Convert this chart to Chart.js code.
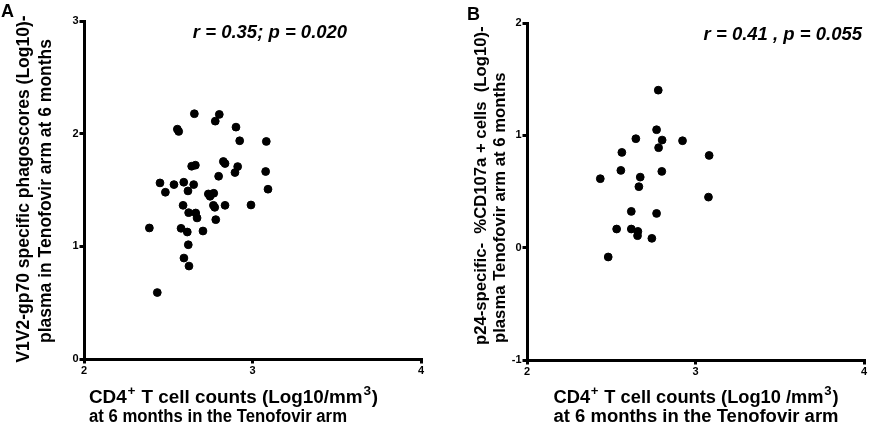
<!DOCTYPE html>
<html>
<head>
<meta charset="utf-8">
<script src="https://cdn.jsdelivr.net/npm/chart.js@4"></script>
<style>
  body { margin: 0; background: #fff; }
  #wrap { position: relative; width: 870px; height: 428px; }
  .panel { position: absolute; top: 0; width: 435px; height: 428px; }
</style>
</head>
<body>
<div id="wrap">
  <div class="panel" style="left:0"><canvas id="chartA" width="435" height="428"></canvas></div>
  <div class="panel" style="left:435px"><canvas id="chartB" width="435" height="428"></canvas></div>
</div>
<script>
// Panel A: CD4 counts vs V1V2-gp70 phagoscores
const cd4A = [2.655, 2.803, 2.779, 2.902, 2.554, 2.562, 2.924, 3.082, 2.639, 2.661,
              2.827, 2.837, 2.912, 2.896, 3.078, 2.799, 2.451, 2.534, 2.592, 2.651,
              2.483, 2.617, 3.092, 2.738, 2.748, 2.770, 2.588, 2.768, 2.776, 2.837,
              2.991, 2.621, 2.663, 2.671, 2.782, 2.388, 2.576, 2.613, 2.706, 2.619,
              2.593, 2.623, 2.435];
const phagoA = [2.177, 2.171, 2.111, 2.058, 2.040, 2.020, 1.937, 1.931, 1.711, 1.720,
                1.753, 1.735, 1.708, 1.655, 1.664, 1.622, 1.563, 1.548, 1.569, 1.548,
                1.480, 1.492, 1.507, 1.465, 1.444, 1.471, 1.364, 1.364, 1.346, 1.364,
                1.367, 1.299, 1.296, 1.252, 1.237, 1.163, 1.160, 1.127, 1.136, 1.014,
                0.896, 0.825, 0.590];

// Panel B: CD4 counts vs p24-specific %CD107a+ cells
const cd4B = [2.779, 2.769, 2.646, 2.802, 2.923, 2.781, 2.563, 3.081, 2.557, 2.800,
              2.435, 2.672, 2.664, 3.077, 2.619, 2.769, 2.532, 2.619, 2.658, 2.656,
              2.741, 2.482];
const cd107B = [1.402, 1.050, 0.970, 0.958, 0.952, 0.890, 0.848, 0.821, 0.688, 0.679,
                0.614, 0.628, 0.543, 0.450, 0.323, 0.305, 0.166, 0.166, 0.145, 0.107,
                0.083, -0.083];

const xTicks = [2, 3, 4];
const yTicksA = [0, 1, 2, 3];
const yTicksB = [-1, 0, 1, 2];

const FONT = '"Liberation Sans", Arial, sans-serif';

// draw text pieces (some superscript), squeezed to a given width
function drawRich(ctx, parts, x, y, align, size, width) {
    const supSize = Math.round(size * 0.72);
    let total = 0;
    parts.forEach(p => {
        ctx.font = 'bold ' + (p.sup ? supSize : size) + 'px ' + FONT;
        p.w = ctx.measureText(p.t).width + (p.sup ? 1.5 : 0);
        total += p.w;
    });
    const k = width ? width / total : 1;
    const left = align === 'center' ? x - total * k / 2 : x;
    ctx.save();
    ctx.translate(left, y);
    ctx.scale(k, 1);
    ctx.textAlign = 'left';
    ctx.textBaseline = 'alphabetic';
    let cx = 0;
    parts.forEach(p => {
        ctx.font = 'bold ' + (p.sup ? supSize : size) + 'px ' + FONT;
        ctx.fillText(p.t, cx + (p.sup ? 0.8 : 0), p.sup ? -size * 0.42 : 0);
        cx += p.w;
    });
    ctx.restore();
}

const labelsPlugin = {
    id: 'panelLabels',
    afterDraw(chart, args, opts) {
        const ctx = chart.ctx;
        ctx.save();
        ctx.fillStyle = '#000';

        // panel letter
        ctx.font = 'bold 18px ' + FONT;
        ctx.textAlign = 'left';
        ctx.textBaseline = 'top';
        ctx.fillText(opts.letter, opts.letterX, opts.letterY);

        // correlation stats
        ctx.font = 'italic bold 18.5px ' + FONT;
        ctx.textAlign = opts.statAlign;
        ctx.textBaseline = 'middle';
        ctx.fillText(opts.stat, opts.statX, opts.statY);

        // y axis title (two rotated lines)
        ctx.font = 'bold ' + opts.yTitleSize + 'px ' + FONT;
        ctx.textBaseline = 'middle';
        opts.yTitle.forEach((line, i) => {
            ctx.save();
            ctx.translate(opts.yTitleX[i], opts.yTitleY[i]);
            ctx.rotate(-Math.PI / 2);
            ctx.textAlign = opts.yTitleAlign;
            ctx.fillText(line, 0, 0);
            ctx.restore();
        });

        // x axis title
        drawRich(ctx, opts.xTitle1, opts.xTitleX, 403, opts.xTitleAlign, 18, opts.xTitleW[0]);
        drawRich(ctx, [{ t: 'at 6 months in the Tenofovir arm' }], opts.xTitleX, 422, opts.xTitleAlign, 18, opts.xTitleW[1]);
        ctx.restore();
    }
};

function makeScatter(id, xs, ys, yTicks, padding, yWidth, xHeight, labels) {
    const points = xs.map((x, i) => ({ x: x, y: ys[i] }));
    const axisGrid = { display: true, drawOnChartArea: false, drawTicks: true, tickLength: 4.5, color: '#000', lineWidth: 3 };
    const tickFont = { family: FONT, size: 11, weight: 'bold' };
    return new Chart(document.getElementById(id), {
        type: 'scatter',
        data: {
            datasets: [{
                data: points,
                backgroundColor: '#000',
                borderColor: '#000',
                pointRadius: 3.9,
                pointHoverRadius: 3.9
            }]
        },
        options: {
            responsive: false,
            animation: false,
            layout: { padding: padding },
            plugins: {
                legend: { display: false },
                tooltip: { enabled: false },
                panelLabels: labels
            },
            scales: {
                x: {
                    type: 'linear',
                    min: xTicks[0],
                    max: xTicks[xTicks.length - 1],
                    afterBuildTicks: s => { s.ticks = xTicks.map(v => ({ value: v })); },
                    afterFit: s => { s.height = xHeight; },
                    grid: axisGrid,
                    border: { color: '#000', width: 3 },
                    ticks: { color: '#000', font: tickFont, padding: 1, maxRotation: 0 }
                },
                y: {
                    type: 'linear',
                    min: yTicks[0],
                    max: yTicks[yTicks.length - 1],
                    afterBuildTicks: s => { s.ticks = yTicks.map(v => ({ value: v })); },
                    afterFit: s => { s.width = yWidth; },
                    grid: axisGrid,
                    border: { color: '#000', width: 3 },
                    ticks: { color: '#000', font: tickFont, padding: 1 }
                }
            }
        },
        plugins: [labelsPlugin]
    });
}

makeScatter('chartA', cd4A, phagoA, yTicksA,
    { top: 21, right: 14, left: 0, bottom: 0 }, 84, 69, {
        letter: 'A', letterX: 1, letterY: 3,
        stat: 'r = 0.35; p = 0.020', statX: 270, statY: 33, statAlign: 'center',
        yTitle: ['V1V2-gp70 specific phagoscores (Log10)-', 'plasma in Tenofovir arm at 6 months'],
        yTitleSize: 17.5,
        yTitleX: [24, 46], yTitleY: [189, 191], yTitleAlign: 'center',
        xTitle1: [{ t: 'CD4' }, { t: '+', sup: true }, { t: ' T cell counts (Log10/mm' }, { t: '3', sup: true }, { t: ')' }],
        xTitleX: 89, xTitleAlign: 'left', xTitleW: [289, 258]
    });

makeScatter('chartB', cd4B, cd107B, yTicksB,
    { top: 23, right: 6, left: 0, bottom: 0 }, 92, 68, {
        letter: 'B', letterX: 32, letterY: 6,
        stat: 'r = 0.41 , p = 0.055', statX: 427, statY: 35, statAlign: 'right',
        yTitle: ['p24-specific-  %CD107a + cells  (Log10)-', 'plasma Tenofovir arm at 6 months'],
        yTitleSize: 16.7,
        yTitleX: [46, 65], yTitleY: [345, 343], yTitleAlign: 'left',
        xTitle1: [{ t: 'CD4' }, { t: '+', sup: true }, { t: ' T cell counts (Log10 /mm' }, { t: '3', sup: true }, { t: ')' }],
        xTitleX: 261, xTitleAlign: 'center', xTitleW: [285, 285]
    });
</script>
</body>
</html>
